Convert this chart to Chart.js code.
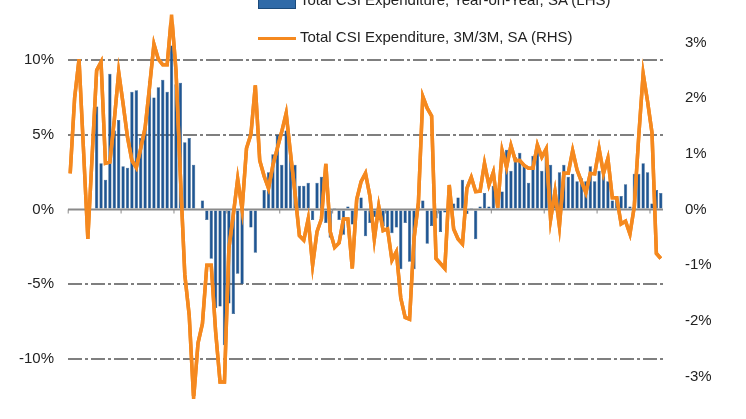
<!DOCTYPE html>
<html>
<head>
<meta charset="utf-8">
<script src="https://cdn.jsdelivr.net/npm/chart.js@4/dist/chart.umd.min.js"></script>
<style>
  html, body { margin: 0; padding: 0; background: #fff; overflow: hidden; }
  #wrap { position: relative; width: 746px; height: 419px; }
  .leg { position: absolute; font-family: "Liberation Sans", Arial, sans-serif; font-size: 15px; color: #222; white-space: nowrap; }
  .sw { display: inline-block; vertical-align: middle; margin-right: 4px; }
</style>
</head>
<body>
<div id="wrap">
  <canvas id="chart" width="746" height="419"></canvas>
  <div class="leg" style="left:258px;top:-9px;"><span class="sw" style="width:36px;height:14px;background:#2f6aa8;border:1px solid #1b4a7a;"></span>Total CSI Expenditure, Year-on-Year, SA (LHS)</div>
  <div class="leg" style="left:258px;top:28px;"><span class="sw" style="width:38px;height:3px;background:#f5891f;"></span>Total CSI Expenditure, 3M/3M, SA (RHS)</div>
</div>
<script>
// Gastos CSI: barras interanuales (eje izq.) y línea 3M/3M (eje der.)
const leadMonths = 6;

const yoyValues = [
  6.9, 3.1, 2.0, 9.1, 5.3, 6.0, 2.9, 2.8, 7.9, 8.0, 4.8, 5.5, 8.6, 7.5, 8.2, 8.7, 7.9, 11.0, 8.4, 8.5,
  4.5, 4.8, 3.0, 0, 0.6, -0.7, -3.3, -6.6, -6.5, -9.1, -6.3, -7.0, -4.3, -5.0, -0.1, -1.2, -2.9,
  0,
  1.3, 2.5, 3.7, 5.0, 3.0, 5.3, 3.9, 3.0, 1.6, 1.6, 1.8, -0.7, 1.8, 2.2, -0.9, -1.9, 0.1, -0.7, -1.7, 0.2, -1.0, 0.3, 0.8,
  -1.8, -0.9, -0.5, -0.7, -1.1, -1.4, -1.6, -1.2, -4.0, -0.9, -3.5, -4.0, 0.2, 0.6, -2.3, -1.1, -0.6, -1.5, -0.2, 0, 0.4, 0.8,
  2.0, -0.3, 0.1, -2.0, 0.2, 1.1, 0.2, 1.6, 0.6, 1.2, 4.0, 2.6, 3.5, 3.8, 3.0, 1.8, 3.6, 4.0, 2.6, 4.0,
  3.0, 1.3, 2.5, 3.0, 2.2, 2.4, 1.9, 2.1, 1.9, 2.9, 1.9, 2.6, 2.6, 1.9, 0.6, 0.9, 0.9, 1.7, 0.2, 2.4,
  2.4, 3.1, 2.5, 0.4, 1.3, 1.1
];

const threeMonthValues = [
  0.65, 2.0, 2.7, 1.1, -0.53, 1.0, 2.5, 2.65, 0.83, 0.85, 1.6, 2.47, 1.9, 1.3, 0.88, 0.75, 1.1, 1.47, 2.2, 2.97,
  2.7, 2.6, 2.6, 3.5, 2.5, 0.6, -1.17, -1.9, -3.4, -2.4, -2.05, -1.0, -1.0, -2.2, -3.1, -3.1, -0.7, -0.1, 0.55, 0.0,
  1.1, 1.35, 2.23, 0.88, 0.6, 0.38, 0.8, 1.1, 1.4, 1.73, 1.0, 0.3, -0.47, -0.55, -0.17, -1.0, -0.4, -0.17, 0.82, -0.4,
  -0.68, -0.6, -0.17, -0.17, -1.06, 0.18, 0.5, 0.65, 0.24, -0.53, 0.06, -0.38, -0.35, -0.91, -0.76, -1.59, -1.94, -1.97, -0.53, 0.12,
  2.03, 1.82, 1.68, -0.88, -0.97, -1.06, 0.44, -0.35, -0.53, -0.62, 0.38, 0.58, 0.32, 0.33, 0.83, 0.44, 0.67, 0.03, 1.06, 0.76,
  1.15, 0.88, 0.88, 0.79, 0.74, 0.74, 1.16, 0.94, 1.09, -0.18, 0.32, -0.3, 0.65, 0.65, 1.06, 0.71, 0.5, 0.3, 0.65, 0.64,
  1.09, 0.65, 0.92, 0.21, 0.21, -0.26, -0.21, -0.44, 0.06, 1.32, 2.44, 1.94, 1.38, -0.79, -0.88
];

const leftTicks = [-10, -5, 0, 5, 10];
const rightTicks = [-3, -2, -1, 0, 1, 2, 3];

const labels = threeMonthValues.map((_, i) => i);
const barData = Array(leadMonths).fill(null).concat(yoyValues);

// Línea cero sólida con pequeñas marcas anuales
const zeroLine = {
  id: 'zeroLine',
  afterDatasetsDraw(chart) {
    const { ctx, chartArea, scales } = chart;
    const y = scales.yL.getPixelForValue(0);
    ctx.save();
    ctx.strokeStyle = '#8a8a8a';
    ctx.lineWidth = 2;
    ctx.beginPath();
    ctx.moveTo(chartArea.left, y);
    ctx.lineTo(chartArea.right, y);
    ctx.stroke();
    ctx.lineWidth = 1;
    for (let i = 0; i < labels.length; i += 12) {
      const x = scales.x.getPixelForValue(i) - 2;
      ctx.beginPath();
      ctx.moveTo(x, y);
      ctx.lineTo(x, y + 4);
      ctx.stroke();
    }
    ctx.restore();
    // la línea naranja va encima de todo
    chart.getDatasetMeta(1).controller.draw();
  }
};

new Chart(document.getElementById('chart'), {
  data: {
    labels: labels,
    datasets: [
      {
        type: 'bar',
        data: barData,
        yAxisID: 'yL',
        backgroundColor: '#1f5693',
        borderColor: '#1b4a7a',
        borderWidth: 0.5,
        barPercentage: 0.75,
        categoryPercentage: 1.0,
        order: 2
      },
      {
        type: 'line',
        data: threeMonthValues,
        yAxisID: 'yR',
        borderColor: '#f5891f',
        borderWidth: 3.5,
        pointRadius: 0,
        tension: 0,
        order: 1
      }
    ]
  },
  options: {
    responsive: false,
    animation: false,
    layout: { padding: { top: 20, bottom: 8, left: 0, right: 0 } },
    plugins: { legend: { display: false }, tooltip: { enabled: false } },
    scales: {
      x: {
        offset: true,
        ticks: { display: false },
        grid: { display: false },
        border: { display: false }
      },
      yL: {
        position: 'left',
        min: -12.5,
        max: 12.5,
        afterBuildTicks: s => { s.ticks = leftTicks.map(v => ({ value: v })); },
        afterFit: s => { s.width = 68; },
        ticks: {
          callback: v => v + '%',
          color: '#222',
          padding: 14,
          font: { family: 'Liberation Sans', size: 15 }
        },
        grid: {
          color: ctx => ctx.tick && ctx.tick.value === 0 ? 'rgba(0,0,0,0)' : '#7f7f7f',
          lineWidth: 2,
          drawTicks: false
        },
        border: { display: false, dash: [14, 3, 3, 3] }
      },
      yR: {
        position: 'right',
        min: -3.35,
        max: 3.35,
        afterBuildTicks: s => { s.ticks = rightTicks.map(v => ({ value: v })); },
        afterFit: s => { s.width = 83; },
        ticks: {
          callback: v => v + '%',
          color: '#222',
          padding: 14,
          font: { family: 'Liberation Sans', size: 15 }
        },
        grid: { display: false },
        border: { display: false }
      }
    }
  },
  plugins: [zeroLine]
});
</script>
</body>
</html>
